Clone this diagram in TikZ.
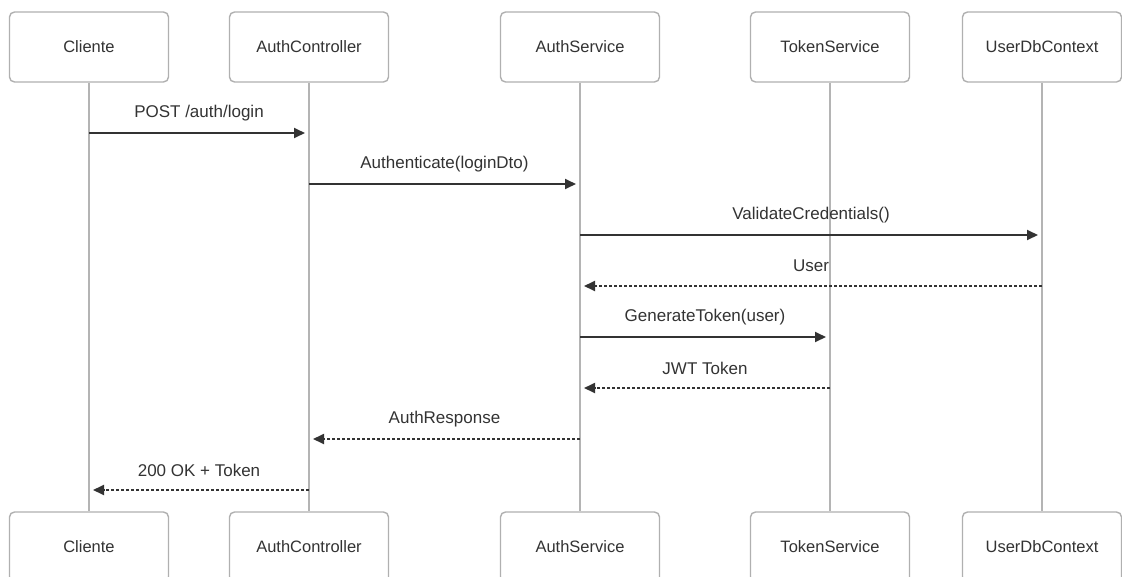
\documentclass[tikz,border=0pt]{standalone}
\usepackage{fontspec}
\setmainfont{Liberation Sans}
\usetikzlibrary{arrows.meta}
\definecolor{boxline}{HTML}{B0B0B0}
\definecolor{lifeline}{HTML}{B4B4B4}
\definecolor{ink}{HTML}{333333}
\tikzset{
  actor/.style={draw=boxline, line width=1.4pt, rounded corners=5pt, fill=white,
    minimum width=159pt, minimum height=70pt, inner sep=0pt,
    font=\fontsize{16.5}{19}\selectfont, text=ink},
  life/.style={draw=lifeline, line width=1.8pt},
  call/.style={draw=ink, line width=1.8pt, shorten >=4pt,
    -{Triangle[length=11pt,width=10pt]}},
  reply/.style={call, dash pattern=on 3pt off 2pt},
  lbl/.style={font=\fontsize{17}{20}\selectfont, text=ink, yshift=20pt, inner sep=0pt}
}
\begin{document}
\begin{tikzpicture}[x=1pt,y=-1pt]
  \useasboundingbox (0,0) rectangle (1122,576);
  \fill[white] (0,0) rectangle (1122,576);

  % participants, head and foot
  \node[actor] (cliT) at (89,47)   {Cliente};
  \node[actor] (ctlT) at (309,47)  {AuthController};
  \node[actor] (svcT) at (580,47)  {AuthService};
  \node[actor] (tokT) at (830,47)  {TokenService};
  \node[actor] (dbT)  at (1042,47) {UserDbContext};
  \node[actor] (cliB) at (89,547)   {Cliente};
  \node[actor] (ctlB) at (309,547)  {AuthController};
  \node[actor] (svcB) at (580,547)  {AuthService};
  \node[actor] (tokB) at (830,547)  {TokenService};
  \node[actor] (dbB)  at (1042,547) {UserDbContext};

  % lifelines
  \draw[life] (cliT.south) -- (cliB.north);
  \draw[life] (ctlT.south) -- (ctlB.north);
  \draw[life] (svcT.south) -- (svcB.north);
  \draw[life] (tokT.south) -- (tokB.north);
  \draw[life] (dbT.south)  -- (dbB.north);

  % messages
  \draw[call]  (cliT |- 0,133) -- node[lbl] {POST /auth/login} (ctlT |- 0,133);
  \draw[call]  (ctlT |- 0,184) -- node[lbl] {Authenticate(loginDto)} (svcT |- 0,184);
  \draw[call]  (svcT |- 0,235) -- node[lbl] {ValidateCredentials()} (dbT |- 0,235);
  \draw[reply] (dbT |- 0,286)  -- node[lbl] {User} (svcT |- 0,286);
  \draw[call]  (svcT |- 0,337) -- node[lbl] {GenerateToken(user)} (tokT |- 0,337);
  \draw[reply] (tokT |- 0,388) -- node[lbl] {JWT Token} (svcT |- 0,388);
  \draw[reply] (svcT |- 0,439) -- node[lbl] {AuthResponse} (ctlT |- 0,439);
  \draw[reply] (ctlT |- 0,490) -- node[lbl] {200 OK + Token} (cliT |- 0,490);
\end{tikzpicture}
\end{document}
